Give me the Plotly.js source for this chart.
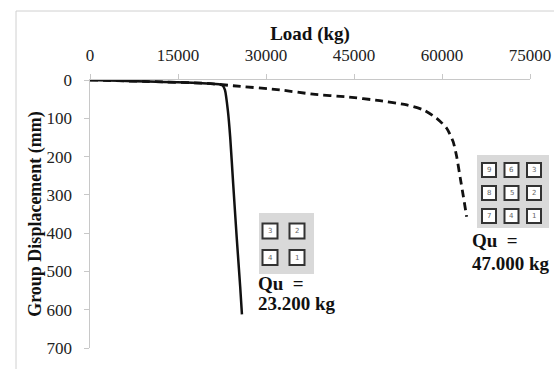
<!DOCTYPE html>
<html>
<head>
<meta charset="utf-8">
<script src="https://cdn.plot.ly/plotly-3.0.1.min.js"></script>
<style>html,body{margin:0;padding:0;background:#fff;}#chart{width:554px;height:369px;}</style>
</head>
<body>
<div id="chart"></div>
<script>
// ---- data ----
const loadSolid = [0, 5000, 10000, 15000, 20000, 22000, 22600, 23000, 23500, 23900, 24400, 25000, 25600, 25900];
const dispSolid = [0, 2, 4, 6, 9, 11, 14, 26, 80, 150, 270, 410, 540, 612];
const loadDashed = [0, 10000, 20000, 24400, 32400, 38000, 43750, 49400, 54000, 56800, 59100, 60800, 61900, 62500, 63100, 63650, 64200];
const dispDashed = [0, 4, 9, 15, 26, 37, 44, 54, 65, 78, 100, 126, 161, 200, 255, 305, 357];
const xTicks = [0, 15000, 30000, 45000, 60000, 75000];
const xTickText = ['0', '15000', '30000', '45000', '60000', '75000'];
const yTicks = [0, 100, 200, 300, 400, 500, 600, 700];
const grid4 = [['3', '2'], ['4', '1']];
const grid9 = [['9', '6', '3'], ['8', '5', '2'], ['7', '4', '1']];
const quSolid = ['Qu  =', '23.200 kg'];
const quDashed = ['Qu  =', '47.000 kg'];

// ---- layout helpers (pixel -> paper) ----
const L = 90, R = 530, T = 80, B = 348;
const px = p => (p - L) / (R - L);
const py = p => (B - p) / (B - T);
const serif = 'Liberation Serif, Times New Roman, serif';

const shapes = [];
const annotations = [];

// outer frame
shapes.push({type: 'rect', xref: 'paper', yref: 'paper', x0: px(16), x1: px(600), y0: py(420), y1: py(11),
  line: {color: '#d0d0d0', width: 1}, fillcolor: 'rgba(0,0,0,0)', layer: 'below'});

function drawGrid(labels, box, cols, rows, size) {
  shapes.push({type: 'rect', xref: 'paper', yref: 'paper', x0: px(box[0]), x1: px(box[1]), y0: py(box[3]), y1: py(box[2]),
    line: {width: 0}, fillcolor: '#d9d9d9'});
  labels.forEach((row, r) => row.forEach((lab, c) => {
    const cx = cols[c], cy = rows[r], h = size / 2;
    shapes.push({type: 'rect', xref: 'paper', yref: 'paper', x0: px(cx - h), x1: px(cx + h), y0: py(cy + h), y1: py(cy - h),
      line: {color: '#333', width: 2}, fillcolor: '#fff'});
    annotations.push({xref: 'paper', yref: 'paper', x: px(cx), y: py(cy), text: lab, showarrow: false,
      xanchor: 'center', yanchor: 'middle', font: {family: 'DejaVu Sans, sans-serif', size: 7, color: '#666'}});
  }));
}
drawGrid(grid4, [259, 314, 213, 274], [270, 297], [231, 257.5], 15);
drawGrid(grid9, [477, 549, 155, 228], [489, 511.5, 534], [170, 193, 216], 14);

function drawText(lines, x, ys) {
  lines.forEach((t, i) => annotations.push({xref: 'paper', yref: 'paper', x: px(x), y: py(ys[i]), text: '<b>' + t + '</b>',
    showarrow: false, xanchor: 'left', yanchor: 'middle', borderpad: 0,
    font: {family: serif, size: 19, color: '#111'}}));
}
drawText(quSolid, 257, [283, 303]);
drawText(quDashed, 471, [240, 263]);

const traces = [
  {x: loadDashed, y: dispDashed, type: 'scatter', mode: 'lines', line: {color: '#111', width: 2.8, dash: '8px,5px', shape: 'spline', smoothing: 0.6}, showlegend: false, hoverinfo: 'skip'},
  {x: loadSolid, y: dispSolid, type: 'scatter', mode: 'lines', line: {color: '#111', width: 2.5, shape: 'spline', smoothing: 0.5}, showlegend: false, hoverinfo: 'skip'}
];

const layout = {
  width: 554, height: 369,
  margin: {l: L, r: 554 - R, t: T, b: 369 - B, pad: 0},
  paper_bgcolor: '#fff', plot_bgcolor: '#fff',
  showlegend: false,
  xaxis: {
    side: 'top', range: [0, 75000], tickvals: xTicks, ticktext: xTickText,
    showgrid: false, zeroline: false, showline: true, linecolor: '#c8c8c8', linewidth: 1.5,
    ticks: 'outside', ticklen: 5, tickcolor: '#c8c8c8', tickwidth: 1, ticklabelstandoff: 6,
    tickfont: {family: serif, size: 17, color: '#222'},
    title: {text: '<b>Load (kg)</b>', font: {family: serif, size: 19, color: '#111'}, standoff: 0},
    fixedrange: true
  },
  yaxis: {
    range: [700, 0], tickvals: yTicks, ticktext: yTicks.map(String),
    showgrid: false, zeroline: false, showline: true, linecolor: '#c8c8c8', linewidth: 1.5,
    ticks: 'outside', ticklen: 5, tickcolor: '#c8c8c8', tickwidth: 1, ticklabelstandoff: 8,
    tickfont: {family: serif, size: 17, color: '#222'},
    title: {text: '<b>Group Displacement (mm)</b>', font: {family: serif, size: 18, color: '#111'}, standoff: 0},
    fixedrange: true
  },
  shapes: shapes,
  annotations: annotations
};

Plotly.newPlot('chart', traces, layout, {staticPlot: true, displayModeBar: false});
</script>
</body>
</html>
